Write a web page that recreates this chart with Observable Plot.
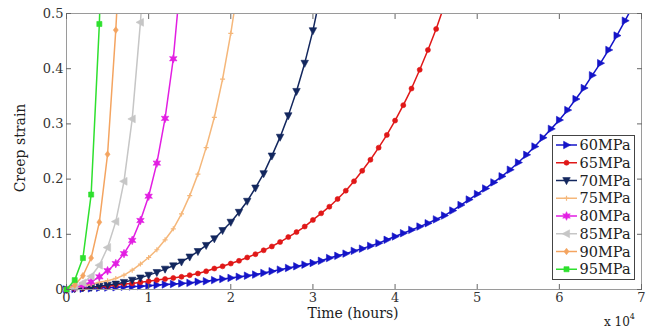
<!DOCTYPE html>
<html><head><meta charset="utf-8">
<script src="https://cdn.jsdelivr.net/npm/d3@7"></script>
<script src="https://cdn.jsdelivr.net/npm/@observablehq/plot@0.6"></script>
<style>body{margin:0;background:#fff}#chart{width:649px;height:331px}</style>
</head><body><div id="chart"></div>
<script>
// Sampling interval of every curve (hours)
const step = 1000;
// Creep strain read at 0, 1000, 2000, ... hours
const s60 = [0,0.001,0.0015,0.002,0.003,0.0035,0.004,0.005,0.0055,0.006,0.007,0.008,0.009,0.010,0.011,0.012,0.014,0.015,0.017,0.019,0.021,0.023,0.025,0.027,0.030,0.033,0.036,0.039,0.042,0.045,0.048,0.052,0.057,0.061,0.065,0.070,0.074,0.079,0.084,0.090,0.096,0.102,0.108,0.114,0.120,0.127,0.134,0.143,0.153,0.163,0.173,0.183,0.194,0.205,0.217,0.230,0.244,0.259,0.275,0.291,0.307,0.325,0.345,0.365,0.388,0.410,0.434,0.460,0.487,0.515];
const s65 = [0,0.001,0.002,0.004,0.005,0.006,0.008,0.010,0.011,0.013,0.015,0.017,0.019,0.021,0.023,0.026,0.029,0.033,0.038,0.042,0.047,0.052,0.058,0.064,0.071,0.078,0.086,0.095,0.104,0.114,0.126,0.138,0.150,0.164,0.179,0.196,0.215,0.235,0.257,0.280,0.306,0.334,0.364,0.398,0.434,0.472,0.515];
const s70 = [0,0.0015,0.003,0.004,0.006,0.008,0.010,0.013,0.017,0.021,0.026,0.031,0.037,0.043,0.050,0.059,0.069,0.080,0.092,0.107,0.122,0.140,0.160,0.184,0.210,0.242,0.276,0.315,0.359,0.410,0.469,0.54];
const s75 = [0,0.003,0.006,0.009,0.013,0.016,0.020,0.026,0.035,0.046,0.058,0.072,0.090,0.110,0.137,0.170,0.209,0.257,0.312,0.381,0.464,0.56];
const s80 = [0,0.004,0.008,0.014,0.023,0.034,0.047,0.065,0.089,0.125,0.169,0.229,0.310,0.418,0.58];
const s85 = [0,0.004,0.012,0.024,0.044,0.076,0.123,0.196,0.309,0.484,0.70];
const s90 = [0,0.008,0.025,0.057,0.122,0.245,0.47,0.75];
const s95 = [0,0.017,0.057,0.172,0.481,1.0];

const names = ["60MPa","65MPa","70MPa","75MPa","80MPa","85MPa","90MPa","95MPa"];
const values = [s60,s65,s70,s75,s80,s85,s90,s95];
const colors = ["#1414c8","#e01818","#13275e","#f5b77a","#e21ee2","#c6c6c6","#f4a460","#2ee02e"];

const xTicks = [0,10000,20000,30000,40000,50000,60000,70000];
const yTicks = [0,0.1,0.2,0.3,0.4,0.5];

// marker shapes
const R = s => Math.sqrt(s / Math.PI);
const triRight = {draw(c, s){const r=R(s)*1.15; c.moveTo(r,0); c.lineTo(-r*0.7,-r*0.9); c.lineTo(-r*0.7,r*0.9); c.closePath();}};
const triLeft  = {draw(c, s){const r=R(s)*1.15; c.moveTo(-r,0); c.lineTo(r*0.7,-r*0.9); c.lineTo(r*0.7,r*0.9); c.closePath();}};
const triDown  = {draw(c, s){const r=R(s)*1.15; c.moveTo(0,r); c.lineTo(-r*0.9,-r*0.7); c.lineTo(r*0.9,-r*0.7); c.closePath();}};
const hexagram = {draw(c, s){const r=R(s)*1.2;
  const pts=[]; for(let k=0;k<12;k++){const a=-Math.PI/2+k*Math.PI/6; const rr = k%2? r*0.5 : r; pts.push([rr*Math.cos(a), rr*Math.sin(a)]);}
  c.moveTo(...pts[0]); for(let k=1;k<12;k++) c.lineTo(...pts[k]); c.closePath();}};
const plusSym = {draw(c, s){const r=R(s); c.moveTo(-r,0); c.lineTo(r,0); c.moveTo(0,-r); c.lineTo(0,r);}};
const diamondSym = {draw(c, s){const r=R(s)*1.1; c.moveTo(0,-r); c.lineTo(r*0.75,0); c.lineTo(0,r); c.lineTo(-r*0.75,0); c.closePath();}};
const squareSym = {draw(c, s){const r=R(s)*0.85; c.rect(-r,-r,2*r,2*r);}};
const circleSym = {draw(c, s){const r=R(s); c.moveTo(r,0); c.arc(0,0,r,0,2*Math.PI);}};

const styles = [
  {symbol: triRight, r: 3.6, filled: true},
  {symbol: circleSym, r: 2.5, filled: true},
  {symbol: triDown, r: 3.6, filled: true},
  {symbol: plusSym, r: 2.5, filled: false},
  {symbol: hexagram, r: 3.6, filled: true},
  {symbol: triLeft, r: 3.8, filled: true},
  {symbol: diamondSym, r: 3.0, filled: true},
  {symbol: squareSym, r: 3.0, filled: true}
];

const series = values.map((vals, k) => vals.map((v, i) => ({t: i * step, v, name: names[k]})));

const marks = [];
series.forEach((rows, k) => {
  const st = styles[k];
  marks.push(Plot.line(rows, {x: "t", y: "v", stroke: colors[k], strokeWidth: 1.5, clip: true}));
  marks.push(Plot.dot(rows.filter(d => d.v <= 0.5), {x: "t", y: "v", symbol: st.symbol, r: st.r,
    fill: st.filled ? colors[k] : "none", stroke: colors[k], strokeWidth: st.filled ? 0.6 : 1.2}));
});

const tickColor = "#666";
const plot = Plot.plot({
  width: 649, height: 331,
  marginLeft: 66, marginRight: 8, marginTop: 13, marginBottom: 42,
  style: {fontFamily: "'DejaVu Serif', serif", fontSize: "13px", color: "#333", background: "#fff"},
  x: {domain: [0, 70000]},
  y: {domain: [0, 0.5]},
  marks: [
    ...marks,
    Plot.frame({stroke: "#9a9a9a"}),
    Plot.axisX(xTicks, {anchor: "bottom", tickSize: -5, tickPadding: 8, tickFormat: d => d / 1e4, label: null, stroke: tickColor, fill: "#333"}),
    Plot.axisX(xTicks, {anchor: "top", tickSize: -5, tickFormat: () => "", label: null, stroke: tickColor}),
    Plot.axisY(yTicks, {anchor: "left", tickSize: -5, tickPadding: 8, tickFormat: d => d === 0 ? "0" : d3.format(".1f")(d), label: null, stroke: tickColor, fill: "#333"}),
    Plot.axisY(yTicks, {anchor: "right", tickSize: -5, tickFormat: () => "", label: null, stroke: tickColor})
  ]
});
document.getElementById("chart").appendChild(plot);

// axis titles and legend
const svg = d3.select(plot);
const font = "'DejaVu Serif', serif";
svg.append("text").attr("transform", "translate(25,148) rotate(-90)").attr("text-anchor", "middle")
  .attr("font-family", font).attr("font-size", 14).attr("fill", "#222").text("Creep strain");
svg.append("text").attr("x", 353).attr("y", 318).attr("text-anchor", "middle")
  .attr("font-family", font).attr("font-size", 14).attr("fill", "#222").text("Time (hours)");
const ex = svg.append("text").attr("x", 604).attr("y", 326).attr("text-anchor", "start").attr("font-family", font).attr("font-size", 12).attr("fill", "#222");
ex.append("tspan").text("x 10");
ex.append("tspan").attr("font-size", 8).attr("dy", -7).text("4");

const lg = svg.append("g");
lg.append("rect").attr("x", 552.5).attr("y", 135.5).attr("width", 82).attr("height", 144)
  .attr("fill", "#fff").attr("stroke", "#444").attr("stroke-width", 1);
names.forEach((n, k) => {
  const y = 145 + k * 17.75;
  const st = styles[k];
  lg.append("line").attr("x1", 556).attr("x2", 577).attr("y1", y).attr("y2", y)
    .attr("stroke", colors[k]).attr("stroke-width", 1.5);
  lg.append("path").attr("transform", `translate(566.5,${y})`)
    .attr("d", d3.symbol(st.symbol, st.r * st.r * Math.PI)())
    .attr("fill", st.filled ? colors[k] : "none").attr("stroke", colors[k]).attr("stroke-width", st.filled ? 0.6 : 1.2);
  lg.append("text").attr("x", 579.5).attr("y", y).attr("dy", "0.36em").attr("text-anchor", "start")
    .attr("font-family", font).attr("font-size", 14.5).attr("fill", "#222").text(n);
});
</script></body></html>
